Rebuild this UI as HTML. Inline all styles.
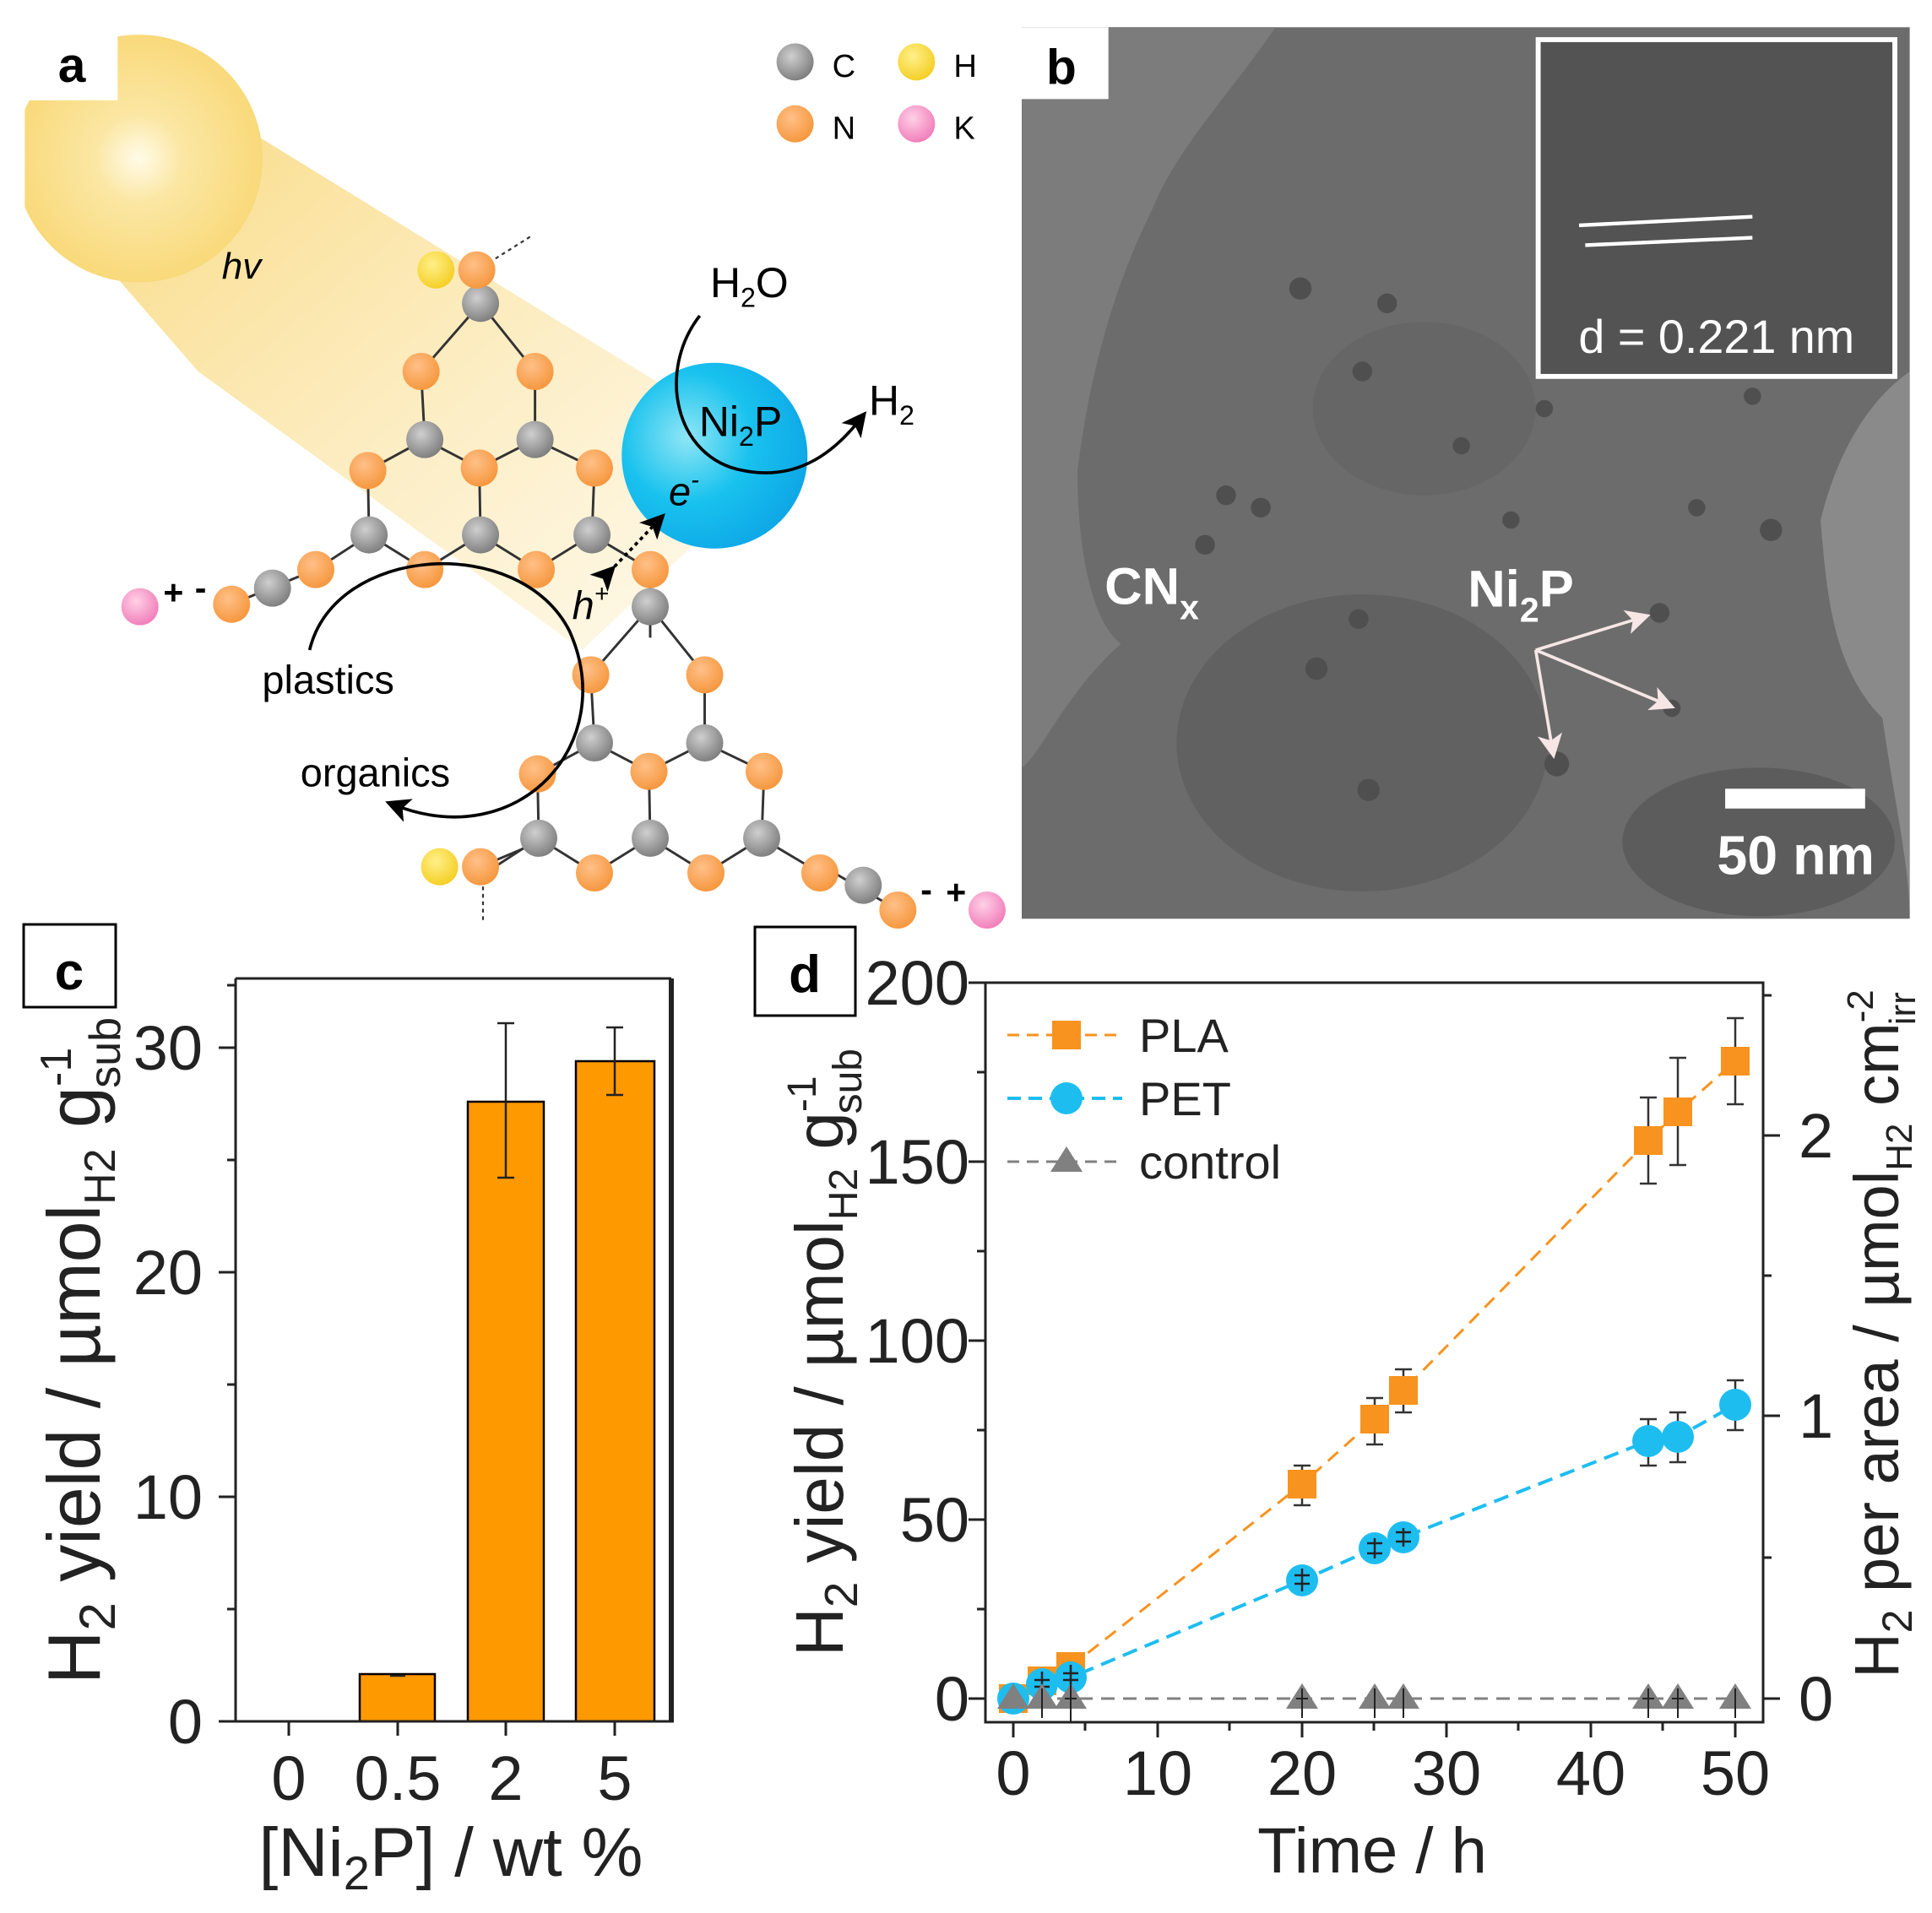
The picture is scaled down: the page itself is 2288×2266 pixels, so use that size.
<!DOCTYPE html>
<html><head><meta charset="utf-8"><style>
html,body{margin:0;padding:0;background:#fff;width:2288px;height:2266px;overflow:hidden}
svg{display:block}
text{font-family:"Liberation Sans",sans-serif}
</style></head><body>
<svg width="2288" height="2266" viewBox="0 0 2288 2266" xmlns="http://www.w3.org/2000/svg">
<defs>
<radialGradient id="sun" cx="0.5" cy="0.5" r="0.5"><stop offset="0" stop-color="#fffbe8"/><stop offset="0.35" stop-color="#fbe7a4"/><stop offset="1" stop-color="#f9d97a"/></radialGradient>
<linearGradient id="beam" x1="0" y1="0" x2="1" y2="1"><stop offset="0" stop-color="#f9d778" stop-opacity="0.9"/><stop offset="1" stop-color="#fbe9b6" stop-opacity="0.3"/></linearGradient>
<radialGradient id="ni" cx="0.35" cy="0.4" r="0.7"><stop offset="0" stop-color="#8fe6f5"/><stop offset="0.5" stop-color="#19c2ee"/><stop offset="1" stop-color="#0da5e6"/></radialGradient>
<radialGradient id="gC" cx="0.4" cy="0.35" r="0.7"><stop offset="0" stop-color="#cfcfcf"/><stop offset="1" stop-color="#7a7a7a"/></radialGradient>
<radialGradient id="gN" cx="0.4" cy="0.35" r="0.7"><stop offset="0" stop-color="#ffc088"/><stop offset="1" stop-color="#f5953a"/></radialGradient>
<radialGradient id="gH" cx="0.4" cy="0.35" r="0.7"><stop offset="0" stop-color="#fff08a"/><stop offset="1" stop-color="#f4cd20"/></radialGradient>
<radialGradient id="gK" cx="0.4" cy="0.35" r="0.7"><stop offset="0" stop-color="#ffd0e6"/><stop offset="1" stop-color="#f07ab8"/></radialGradient>
<marker id="ah" markerWidth="8" markerHeight="8" refX="5" refY="4" orient="auto"><path d="M0,0 L8,4 L0,8 L2,4 z" fill="#000"/></marker>
<marker id="aw" markerWidth="8" markerHeight="8" refX="6" refY="4" orient="auto"><path d="M0,0 L8,4 L0,8 L2,4 z" fill="#f6e6e6"/></marker>
</defs>

<g transform="scale(1.46667)">
<!-- panel a -->
<polygon points="95,225 200,105 590,345 560,440 470,525 160,300" fill="url(#beam)"/>
<clipPath id="sc"><rect x="20" y="18" width="400" height="400"/></clipPath>
<circle cx="112" cy="128" r="100" fill="url(#sun)" clip-path="url(#sc)"/>
<rect x="20" y="18" width="75" height="63" fill="#fff"/>
<text x="58" y="66" font-size="40" font-weight="bold" text-anchor="middle">a</text>
<text x="195" y="225" font-size="30" font-style="italic" text-anchor="middle">hv</text>

<g stroke="#333" stroke-width="2" fill="none">
<path d="M388,245 L340,300 M388,245 L432,300 M340,300 L343,355 M432,300 L432,355 M343,355 L297,380 M343,355 L387,378 M432,355 L387,378 M432,355 L480,378 M297,380 L298,432 M387,378 L388,432 M480,378 L478,432 M298,432 L255,460 M298,432 L343,460 M388,432 L343,460 M388,432 L433,460 M478,432 L433,460 M478,432 L525,460"/>
</g>
<path d="M385,218 L388,245 M525,460 L525,515 M255,460 L187,488 M665,700 L725,735 M388,700 L435,680" stroke="#333" stroke-width="2"/>
<path d="M395,212 L430,190 M390,710 L390,745" stroke="#333" stroke-width="1.5" stroke-dasharray="3,3"/>
<g transform="translate(137,245)">
<path d="M388,245 L340,300 M388,245 L432,300 M340,300 L343,355 M432,300 L432,355 M343,355 L297,380 M343,355 L387,378 M432,355 L387,378 M432,355 L480,378 M297,380 L298,432 M387,378 L388,432 M480,378 L478,432 M298,432 L255,460 M298,432 L343,460 M388,432 L343,460 M388,432 L433,460 M478,432 L433,460 M478,432 L525,460" stroke="#333" stroke-width="2"/>
</g>
<g>
<circle cx="388" cy="245" r="15" fill="url(#gC)"/><circle cx="343" cy="355" r="15" fill="url(#gC)"/><circle cx="432" cy="355" r="15" fill="url(#gC)"/><circle cx="298" cy="432" r="15" fill="url(#gC)"/><circle cx="388" cy="432" r="15" fill="url(#gC)"/><circle cx="478" cy="432" r="15" fill="url(#gC)"/>
<circle cx="340" cy="300" r="15" fill="url(#gN)"/><circle cx="432" cy="300" r="15" fill="url(#gN)"/><circle cx="297" cy="380" r="15" fill="url(#gN)"/><circle cx="387" cy="378" r="15" fill="url(#gN)"/><circle cx="480" cy="378" r="15" fill="url(#gN)"/><circle cx="255" cy="460" r="15" fill="url(#gN)"/><circle cx="343" cy="460" r="15" fill="url(#gN)"/><circle cx="433" cy="460" r="15" fill="url(#gN)"/><circle cx="525" cy="460" r="15" fill="url(#gN)"/>
</g>
<g transform="translate(137,245)">
<circle cx="388" cy="245" r="15" fill="url(#gC)"/><circle cx="343" cy="355" r="15" fill="url(#gC)"/><circle cx="432" cy="355" r="15" fill="url(#gC)"/><circle cx="298" cy="432" r="15" fill="url(#gC)"/><circle cx="388" cy="432" r="15" fill="url(#gC)"/><circle cx="478" cy="432" r="15" fill="url(#gC)"/>
<circle cx="340" cy="300" r="15" fill="url(#gN)"/><circle cx="432" cy="300" r="15" fill="url(#gN)"/><circle cx="297" cy="380" r="15" fill="url(#gN)"/><circle cx="387" cy="378" r="15" fill="url(#gN)"/><circle cx="480" cy="378" r="15" fill="url(#gN)"/><circle cx="343" cy="460" r="15" fill="url(#gN)"/><circle cx="433" cy="460" r="15" fill="url(#gN)"/><circle cx="525" cy="460" r="15" fill="url(#gN)"/>
</g>
<circle cx="352" cy="218" r="15" fill="url(#gH)"/><circle cx="385" cy="218" r="15" fill="url(#gN)"/>
<circle cx="355" cy="700" r="15" fill="url(#gH)"/><circle cx="388" cy="700" r="15" fill="url(#gN)"/>
<circle cx="220" cy="475" r="15" fill="url(#gC)"/><circle cx="187" cy="488" r="15" fill="url(#gN)"/><circle cx="113" cy="490" r="15" fill="url(#gK)"/>
<text x="140" y="488" font-size="28" font-weight="bold" text-anchor="middle">+</text><text x="162" y="484" font-size="28" font-weight="bold" text-anchor="middle">-</text>
<circle cx="697" cy="715" r="15" fill="url(#gC)"/><circle cx="725" cy="735" r="15" fill="url(#gN)"/><circle cx="797" cy="735" r="15" fill="url(#gK)"/>
<text x="748" y="728" font-size="28" font-weight="bold" text-anchor="middle">-</text><text x="772" y="730" font-size="28" font-weight="bold" text-anchor="middle">+</text>

<circle cx="577" cy="368" r="75" fill="url(#ni)"/>
<text x="598" y="352" font-size="34" text-anchor="middle">Ni<tspan font-size="22" dy="8">2</tspan><tspan dy="-8">P</tspan></text>
<text x="605" y="240" font-size="34" text-anchor="middle">H<tspan font-size="22" dy="8">2</tspan><tspan dy="-8">O</tspan></text>
<text x="720" y="335" font-size="34" text-anchor="middle">H<tspan font-size="22" dy="8">2</tspan></text>
<text x="540" y="408" font-size="32" font-style="italic">e<tspan font-size="20" dy="-14">-</tspan></text>
<text x="462" y="500" font-size="32" font-style="italic">h<tspan font-size="20" dy="-14">+</tspan></text>
<path d="M565,255 C530,300 545,370 600,380 C640,388 670,370 695,338" stroke="#000" stroke-width="2.5" fill="none" marker-end="url(#ah)"/>
<path d="M492,462 L532,420" stroke="#000" stroke-width="2.5" stroke-dasharray="3,3" marker-end="url(#ah)" marker-start="url(#ah)"/>
<path d="M250,525 C270,440 420,430 460,510 C500,600 420,690 318,650" stroke="#000" stroke-width="2.5" fill="none" marker-end="url(#ah)"/>
<text x="265" y="560" font-size="32" text-anchor="middle">plastics</text>
<text x="303" y="635" font-size="32" text-anchor="middle">organics</text>
<circle cx="642" cy="50" r="15" fill="url(#gC)"/><text x="672" y="62" font-size="26">C</text>
<circle cx="740" cy="50" r="15" fill="url(#gH)"/><text x="770" y="62" font-size="26">H</text>
<circle cx="642" cy="100" r="15" fill="url(#gN)"/><text x="672" y="112" font-size="26">N</text>
<circle cx="740" cy="100" r="15" fill="url(#gK)"/><text x="770" y="112" font-size="26">K</text>

<!-- panel b -->
<rect x="825" y="22" width="717" height="720" fill="#6c6c6c"/>
<path d="M825,22 L1030,22 C990,80 950,120 930,170 C900,230 880,300 870,380 C870,440 880,500 905,520 C860,560 840,610 825,620 z" fill="#7c7c7c"/>
<path d="M1542,300 C1500,330 1480,380 1470,420 C1475,480 1480,540 1520,580 C1530,650 1542,700 1542,742 z" fill="#8a8a8a"/>
<ellipse cx="1100" cy="600" rx="150" ry="120" fill="#616161"/>
<ellipse cx="1420" cy="680" rx="110" ry="60" fill="#5c5c5c"/>
<ellipse cx="1150" cy="330" rx="90" ry="70" fill="#666"/>
<g fill="#4f4f4f">
<circle cx="1050" cy="233" r="9"/><circle cx="1120" cy="245" r="8"/><circle cx="1325" cy="230" r="8"/><circle cx="990" cy="400" r="8"/><circle cx="1018" cy="410" r="8"/><circle cx="1097" cy="500" r="8"/><circle cx="1105" cy="638" r="9"/><circle cx="1257" cy="617" r="10"/><circle cx="1340" cy="495" r="8"/><circle cx="1350" cy="572" r="7"/><circle cx="1430" cy="428" r="9"/><circle cx="1370" cy="410" r="7"/><circle cx="1063" cy="540" r="9"/><circle cx="973" cy="440" r="8"/><circle cx="1220" cy="420" r="7"/><circle cx="1180" cy="360" r="7"/><circle cx="1247" cy="330" r="7"/><circle cx="1415" cy="320" r="7"/><circle cx="1100" cy="300" r="8"/>
</g>
<rect x="1242" y="32" width="288" height="272" fill="#535353" stroke="#fff" stroke-width="4"/>
<path d="M1275,182 L1415,175 M1280,198 L1415,192" stroke="#fff" stroke-width="3"/>
<text x="1386" y="285" font-size="38" fill="#fff" text-anchor="middle">d = 0.221 nm</text>
<text x="930" y="488" font-size="42" font-weight="bold" fill="#fff" text-anchor="middle">CN<tspan font-size="28" dy="12">x</tspan></text>
<text x="1228" y="490" font-size="42" font-weight="bold" fill="#fff" text-anchor="middle">Ni<tspan font-size="28" dy="12">2</tspan><tspan dy="-12">P</tspan></text>
<path d="M1240,525 L1328,498" stroke="#f6e6e6" stroke-width="2.5" marker-end="url(#aw)"/>
<path d="M1240,525 L1348,570" stroke="#f6e6e6" stroke-width="2.5" marker-end="url(#aw)"/>
<path d="M1240,525 L1254,608" stroke="#f6e6e6" stroke-width="2.5" marker-end="url(#aw)"/>
<rect x="1393" y="637" width="113" height="16" fill="#fff"/>
<text x="1450" y="706" font-size="44" font-weight="bold" fill="#fff" text-anchor="middle">50 nm</text>
<rect x="825" y="22" width="70" height="58" fill="#fff"/>
<text x="857" y="68" font-size="40" font-weight="bold" text-anchor="middle">b</text>
</g>

<!-- panel c -->
<rect x="28" y="1095" width="109" height="98" fill="#fff" stroke="#000" stroke-width="3"/>
<text x="82" y="1172" font-size="62" font-weight="bold" text-anchor="middle">c</text>
<g stroke="#000" stroke-width="2.5" fill="#ff9900">
<rect x="426" y="1983" width="89" height="56"/>
<rect x="554" y="1305" width="90" height="734"/>
<rect x="682" y="1257" width="93" height="782"/>
</g>
<g stroke="#222" stroke-width="2.5">
<path d="M599,1395 L599,1212 M589,1395 L609,1395 M589,1212 L609,1212"/>
<path d="M728,1297 L728,1217 M718,1297 L738,1297 M718,1217 L738,1217"/>
<path d="M462,1985 L480,1985"/>
</g>
<g stroke="#222" stroke-width="3" fill="none">
<path d="M279,1159 L795,1159 M279,1159 L279,2039 L798,2039"/>
<path d="M795,1159 L795,2039" stroke-width="6"/>
<path d="M259,2039 L279,2039 M259,1773 L279,1773 M259,1507 L279,1507 M259,1241 L279,1241 M269,1906 L279,1906 M269,1640 L279,1640 M269,1374 L279,1374 M269,1167 L279,1167"/>
<path d="M342,2039 L342,2056 M471,2039 L471,2056 M599,2039 L599,2056 M728,2039 L728,2056"/>
</g>
<g font-size="74" fill="#222" text-anchor="end">
<text x="240" y="2065">0</text><text x="240" y="1799">10</text><text x="240" y="1533">20</text><text x="240" y="1267">30</text>
</g>
<g font-size="74" fill="#222" text-anchor="middle">
<text x="342" y="2132">0</text><text x="471" y="2132">0.5</text><text x="599" y="2132">2</text><text x="728" y="2132">5</text>
<text x="534" y="2222" font-size="82">[Ni<tspan font-size="56" dy="16">2</tspan><tspan dy="-16">P] / wt %</tspan></text>
</g>
<text transform="translate(118,1600) rotate(-90)" font-size="88" fill="#222" text-anchor="middle">H<tspan font-size="60" dy="18">2</tspan><tspan dy="-18"> yield / µmol</tspan><tspan font-size="52" dy="18">H2</tspan><tspan dy="-18"> g</tspan><tspan font-size="52" dy="-34">-1</tspan><tspan font-size="52" dx="-48" dy="58">sub</tspan></text>

<!-- panel d -->
<rect x="894" y="1098" width="119" height="105" fill="#fff" stroke="#000" stroke-width="3"/>
<text x="953" y="1175" font-size="62" font-weight="bold" text-anchor="middle">d</text>
<g stroke="#222" stroke-width="3" fill="none">
<rect x="1167" y="1164" width="921" height="876"/>
<path d="M1147,2012 L1167,2012 M1147,1800 L1167,1800 M1147,1588 L1167,1588 M1147,1376 L1167,1376 M1147,1164 L1167,1164 M1157,1906 L1167,1906 M1157,1694 L1167,1694 M1157,1482 L1167,1482 M1157,1270 L1167,1270"/>
<path d="M2088,2012 L2108,2012 M2088,1677 L2108,1677 M2088,1345 L2108,1345 M2088,1845 L2098,1845 M2088,1511 L2098,1511 M2088,1179 L2098,1179"/>
<path d="M1200,2040 L1200,2058 M1371,2040 L1371,2058 M1542,2040 L1542,2058 M1713,2040 L1713,2058 M1884,2040 L1884,2058 M2055,2040 L2055,2058 M1285,2040 L1285,2050 M1456,2040 L1456,2050 M1627,2040 L1627,2050 M1798,2040 L1798,2050 M1969,2040 L1969,2050"/>
</g>
<g font-size="74" fill="#222" text-anchor="end">
<text x="1148" y="2038">0</text><text x="1148" y="1826">50</text><text x="1148" y="1614">100</text><text x="1148" y="1402">150</text><text x="1148" y="1190">200</text>
</g>
<g font-size="74" fill="#222">
<text x="2130" y="2038">0</text><text x="2130" y="1703">1</text><text x="2130" y="1371">2</text>
</g>
<g font-size="74" fill="#222" text-anchor="middle">
<text x="1200" y="2126">0</text><text x="1371" y="2126">10</text><text x="1542" y="2126">20</text><text x="1713" y="2126">30</text><text x="1884" y="2126">40</text><text x="2055" y="2126">50</text>
<text x="1625" y="2218" font-size="76">Time / h</text>
</g>
<text transform="translate(998,1602) rotate(-90)" font-size="80" fill="#222" text-anchor="middle">H<tspan font-size="55" dy="17">2</tspan><tspan dy="-17"> yield / µmol</tspan><tspan font-size="48" dy="17">H2</tspan><tspan dy="-17"> g</tspan><tspan font-size="48" dy="-32">-1</tspan><tspan font-size="48" dx="-45" dy="54">sub</tspan></text>
<text transform="translate(2248,1580) rotate(-90)" font-size="74" fill="#222" text-anchor="middle">H<tspan font-size="50" dy="16">2</tspan><tspan dy="-16"> per area / µmol</tspan><tspan font-size="44" dy="16">H2</tspan><tspan dy="-16"> cm</tspan><tspan font-size="44" dy="-30">-2</tspan><tspan font-size="44" dx="-42" dy="50">irr</tspan></text>

<!-- control -->
<path d="M1200,2012 L2055,2012" stroke="#808080" stroke-width="3" stroke-dasharray="16,10"/>
<!-- PLA -->
<polyline points="1200,2012 1234,1991 1268,1974 1542,1758 1628,1681 1662,1647 1952,1351 1987,1317 2055,1257" fill="none" stroke="#f7931e" stroke-width="3" stroke-dasharray="16,10"/>
<!-- PET -->
<polyline points="1200,2012 1234,1995 1268,1987 1542,1872 1628,1834 1662,1821 1952,1707 1987,1702 2055,1664" fill="none" stroke="#1ebdf0" stroke-width="4" stroke-dasharray="18,10"/>
<g stroke="#333" stroke-width="2.5">
<path d="M1542,1783 L1542,1736 M1532,1783 L1552,1783 M1532,1736 L1552,1736"/>
<path d="M1628,1711 L1628,1656 M1618,1711 L1638,1711 M1618,1656 L1638,1656"/>
<path d="M1662,1673 L1662,1622 M1652,1673 L1672,1673 M1652,1622 L1672,1622"/>
<path d="M1952,1402 L1952,1300 M1942,1402 L1962,1402 M1942,1300 L1962,1300"/>
<path d="M1987,1380 L1987,1253 M1977,1380 L1997,1380 M1977,1253 L1997,1253"/>
<path d="M2055,1308 L2055,1206 M2045,1308 L2065,1308 M2045,1206 L2065,1206"/>
<path d="M1952,1736 L1952,1681 M1942,1736 L1962,1736 M1942,1681 L1962,1681"/>
<path d="M1987,1732 L1987,1673 M1977,1732 L1997,1732 M1977,1673 L1997,1673"/>
<path d="M2055,1694 L2055,1635 M2045,1694 L2065,1694 M2045,1635 L2065,1635"/>
</g>
<g fill="#f7931e">
<rect x="1183" y="1995" width="34" height="34"/><rect x="1217" y="1974" width="34" height="34"/><rect x="1251" y="1957" width="34" height="34"/>
<rect x="1525" y="1741" width="34" height="34"/><rect x="1611" y="1664" width="34" height="34"/><rect x="1645" y="1630" width="34" height="34"/>
<rect x="1935" y="1334" width="34" height="34"/><rect x="1970" y="1300" width="34" height="34"/><rect x="2038" y="1240" width="34" height="34"/>
</g>
<g fill="#1ebdf0">
<circle cx="1200" cy="2012" r="19"/><circle cx="1234" cy="1995" r="19"/><circle cx="1268" cy="1987" r="19"/>
<circle cx="1542" cy="1872" r="19"/><circle cx="1628" cy="1834" r="19"/><circle cx="1662" cy="1821" r="19"/>
<circle cx="1952" cy="1707" r="19"/><circle cx="1987" cy="1702" r="19"/><circle cx="2055" cy="1664" r="19"/>
</g>
<g stroke="#222" stroke-width="2.5">
<path d="M1542,1885 L1542,1858 M1533,1876 L1551,1876 M1533,1866 L1551,1866"/>
<path d="M1628,1846 L1628,1822 M1619,1840 L1637,1840 M1619,1828 L1637,1828"/>
<path d="M1662,1832 L1662,1810 M1653,1826 L1671,1826 M1653,1815 L1671,1815"/>
<path d="M1234,2010 L1234,1980 M1225,1998 L1243,1998 M1225,1990 L1243,1990"/>
<path d="M1268,2002 L1268,1972 M1259,1990 L1277,1990 M1259,1982 L1277,1982"/>
</g>
<g fill="#808080">
<path d="M1200,1994 L1219,2024 L1181,2024 z"/><path d="M1234,1994 L1253,2024 L1215,2024 z"/><path d="M1268,1994 L1287,2024 L1249,2024 z"/>
<path d="M1542,1994 L1561,2024 L1523,2024 z"/><path d="M1628,1994 L1647,2024 L1609,2024 z"/><path d="M1662,1994 L1681,2024 L1643,2024 z"/>
<path d="M1952,1994 L1971,2024 L1933,2024 z"/><path d="M1987,1994 L2006,2024 L1968,2024 z"/><path d="M2055,1994 L2074,2024 L2036,2024 z"/>
</g>
<g stroke="#222" stroke-width="2">
<path d="M1234,2000 L1234,2035 M1268,1992 L1268,2040 M1542,2000 L1542,2035 M1628,2000 L1628,2035 M1662,2000 L1662,2035 M1952,2000 L1952,2035 M1987,2000 L1987,2035 M2055,2000 L2055,2035 M1535,2012 L1549,2012 M1945,2012 L1959,2012 M1980,2012 L1994,2012 M1261,2012 L1275,2012"/>
</g>
<!-- legend -->
<path d="M1193,1226 L1329,1226" stroke="#f7931e" stroke-width="3" stroke-dasharray="14,9"/>
<rect x="1246" y="1209" width="34" height="34" fill="#f7931e"/>
<path d="M1193,1301 L1329,1301" stroke="#1ebdf0" stroke-width="4" stroke-dasharray="16,9"/>
<circle cx="1263" cy="1301" r="19" fill="#1ebdf0"/>
<path d="M1193,1376 L1329,1376" stroke="#808080" stroke-width="3" stroke-dasharray="14,9"/>
<path d="M1263,1358 L1282,1388 L1244,1388 z" fill="#808080"/>
<g font-size="56" fill="#222"><text x="1349" y="1246">PLA</text><text x="1349" y="1321">PET</text><text x="1349" y="1396">control</text></g>
</svg>
</body></html>
